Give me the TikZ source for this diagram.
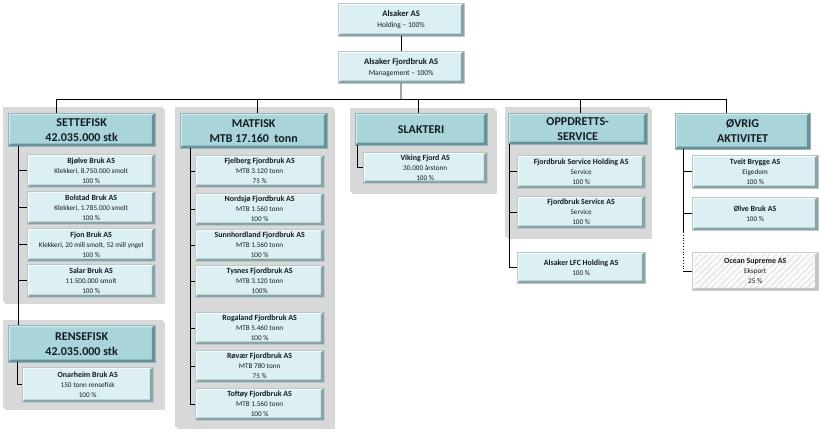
\documentclass[tikz,border=0pt]{standalone}
\usepackage{fontspec}
\setmainfont{Carlito}
\usetikzlibrary{shadows,patterns.meta}
\definecolor{hdr}{RGB}{168,212,218}
\definecolor{hdrdark}{RGB}{100,146,152}
\definecolor{hdrlight}{RGB}{208,234,238}
\definecolor{chl}{RGB}{220,239,242}
\definecolor{chldark}{RGB}{136,164,168}
\definecolor{chllight}{RGB}{244,250,251}
\definecolor{panel}{RGB}{216,216,216}
\definecolor{txt}{RGB}{20,28,34}
\newcommand\cttl[1]{{\fontsize{7.9}{10}\selectfont\bfseries #1}}
\tikzset{
  bevel/.style 2 args={path picture={
    \path (path picture bounding box.south west) coordinate (bsw)
          (path picture bounding box.north east) coordinate (bne);
    \path (bsw -| bne) coordinate (bse) (bsw |- bne) coordinate (bnw);
    \fill[#1] (bne) -- (bse) -- (bsw) -- ([xshift=2pt,yshift=2.5pt]bsw)
       -- ([xshift=-3.2pt,yshift=2.5pt]bse) -- ([xshift=-3.2pt,yshift=-2pt]bne) -- cycle;
    \fill[#2] (bsw) -- (bnw) -- (bne) -- ([xshift=-3.2pt,yshift=-2pt]bne)
       -- ([xshift=2pt,yshift=-2pt]bnw) -- ([xshift=2pt,yshift=2.5pt]bsw) -- cycle;
  }},
  panelbox/.style={fill=panel, anchor=north west, inner sep=0pt,
    drop shadow={opacity=0.3, shadow xshift=2pt, shadow yshift=-2pt}},
  hdrbox/.style={draw=hdrdark!70, line width=0.3pt, fill=hdr, bevel={hdrdark}{hdrlight},
    anchor=north west, align=center, inner sep=1pt, text=txt,
    font=\bfseries\fontsize{12}{15}\selectfont,
    drop shadow={opacity=0.25, shadow xshift=1.2pt, shadow yshift=-1.2pt}},
  chbox/.style={draw=chldark!60, line width=0.3pt, fill=chl, bevel={chldark}{chllight},
    anchor=north west, align=center, inner sep=1pt, text=txt,
    font=\fontsize{7.2}{10}\selectfont,
    drop shadow={opacity=0.2, shadow xshift=1pt, shadow yshift=-1pt}},
  topbox/.style={chbox, font=\fontsize{7.5}{11}\selectfont},
  hatchbox/.style={draw=gray!40, line width=0.3pt, preaction={fill=white!96!gray},
    pattern={Lines[angle=45,distance=4.5pt,line width=0.5pt]}, pattern color=gray!35,
    bevel={gray!45}{white},
    anchor=north west, align=center, inner sep=1pt, text=txt,
    font=\fontsize{7.2}{10}\selectfont},
  conn/.style={draw=black, line width=0.8pt},
  dotconn/.style={draw=black, line width=0.8pt, dotted},
}
\begin{document}
\begin{tikzpicture}[x=1pt,y=-1pt]
\useasboundingbox[fill=white] (0,0) rectangle (820,433);

% grey panels
\node[panelbox, minimum width=160, minimum height=195] (p1) at (3,107) {};
\node[panelbox, minimum width=160, minimum height=88] (p2) at (3,320) {};
\node[panelbox, minimum width=158, minimum height=320] (p3) at (175,107) {};
\node[panelbox, minimum width=145, minimum height=84] (p4) at (350,108) {};
\node[panelbox, minimum width=145, minimum height=130] (p5) at (505,107) {};

% top boxes
\node[topbox, minimum width=126, minimum height=33] (alsaker) at (338,3)
  {{\fontsize{8.6}{11}\selectfont\bfseries Alsaker AS}\\Holding – 100\%};
\node[topbox, minimum width=126, minimum height=32] (fjord) at (338,51)
  {{\fontsize{8.6}{11}\selectfont\bfseries Alsaker Fjordbruk AS}\\Management – 100\%};

% headers
\node[hdrbox, minimum width=147, minimum height=33] (sette) at (8,113) {SETTEFISK\\42.035.000 stk};
\node[hdrbox, minimum width=147, minimum height=37] (rense) at (8,325) {RENSEFISK\\42.035.000 stk};
\node[hdrbox, minimum width=147, minimum height=35] (mat) at (180,113) {MATFISK\\MTB 17.160\ \ tonn};
\node[hdrbox, minimum width=132, minimum height=32] (slakt) at (355,113) {SLAKTERI};
\node[hdrbox, minimum width=139, minimum height=31] (oppd) at (508,113) {OPPDRETTS-\\SERVICE};
\node[hdrbox, minimum width=135, minimum height=36] (ovrig) at (675,113) {ØVRIG\\AKTIVITET};

% bus
\coordinate (bus) at (401,99);
\coordinate (d1) at (56,99);
\coordinate (d2) at (257,99);
\coordinate (d3) at (418,99);
\coordinate (d4) at (580,99);
\coordinate (d5) at (726,99);
\draw[conn] (alsaker) -- (fjord);
\draw[conn] (fjord) -- (bus);
\draw[conn] (d1) -- (d5);
\draw[conn] (d1) -- (d1 |- sette.north);
\draw[conn] (d2) -- (d2 |- mat.north);
\draw[conn] (d3) -- (d3 |- slakt.north);
\draw[conn] (d4) -- (d4 |- oppd.north);
\draw[conn] (d5) -- (d5 |- ovrig.north);

% internal spines
\coordinate (s1) at (18,0);
\coordinate (s2) at (17,0);
\coordinate (s3) at (190,0);
\coordinate (s4) at (357,0);
\coordinate (s5) at (509,0);
\coordinate (s6) at (683,0);
\coordinate (s6b) at (683,232);

% children settefisk
\node[chbox, minimum width=128, minimum height=33] (bjolve) at (27,154)
  {\cttl{Bjølve Bruk AS}\\Klekkeri, 8.750.000 smolt\\100 \%};
\node[chbox, minimum width=128, minimum height=33] (bolstad) at (27,191)
  {\cttl{Bolstad Bruk AS}\\Klekkeri, 1.785.000 smolt\\100 \%};
\node[chbox, minimum width=128, minimum height=33] (fjon) at (27,228)
  {\cttl{Fjon Bruk AS}\\Klekkeri, 20 mill smolt, 52 mill yngel\\100 \%};
\node[chbox, minimum width=128, minimum height=33] (salar) at (27,264)
  {\cttl{Salar Bruk AS}\\11.500.000 smolt\\100 \%};
\node[chbox, minimum width=131, minimum height=35] (onarheim) at (22,367)
  {\cttl{Onarheim Bruk AS}\\150 tonn rensefisk\\100 \%};

% children matfisk
\node[chbox, minimum width=129, minimum height=32] (fjelberg) at (195,155)
  {\cttl{Fjelberg Fjordbruk AS}\\MTB 3.120 tonn\\75 \%};
\node[chbox, minimum width=129, minimum height=32] (nordsjo) at (195,193)
  {\cttl{Nordsjø Fjordbruk AS}\\MTB 1.560 tonn\\100 \%};
\node[chbox, minimum width=129, minimum height=32] (sunnh) at (195,229)
  {\cttl{Sunnhordland Fjordbruk AS}\\MTB 1.560 tonn\\100 \%};
\node[chbox, minimum width=129, minimum height=32] (tysnes) at (195,265)
  {\cttl{Tysnes Fjordbruk AS}\\MTB 3.120 tonn\\100\%};
\node[chbox, minimum width=129, minimum height=32] (rogaland) at (195,312)
  {\cttl{Rogaland Fjordbruk AS}\\MTB 5.460 tonn\\100 \%};
\node[chbox, minimum width=129, minimum height=32] (rovaer) at (195,350)
  {\cttl{Røvær Fjordbruk AS}\\MTB 780 tonn\\75 \%};
\node[chbox, minimum width=129, minimum height=32] (toftoy) at (195,388)
  {\cttl{Toftøy Fjordbruk AS}\\MTB 1.560 tonn\\100 \%};

% slakteri
\node[chbox, minimum width=124, minimum height=31] (viking) at (363,152)
  {\cttl{Viking Fjord AS}\\30.000 årstonn\\100 \%};

% oppdrettsservice
\node[chbox, minimum width=128, minimum height=33] (fsh) at (517,155)
  {\cttl{Fjordbruk Service Holding AS}\\Service\\100 \%};
\node[chbox, minimum width=128, minimum height=32] (fs) at (517,196)
  {\cttl{Fjordbruk Service AS}\\Service\\100 \%};
\node[chbox, minimum width=128, minimum height=31] (lfc) at (517,252)
  {\cttl{Alsaker LFC Holding AS}\\100 \%};

% øvrig
\node[chbox, minimum width=126, minimum height=33] (tveit) at (692,155)
  {\cttl{Tveit Brygge AS}\\Eigedom\\100 \%};
\node[chbox, minimum width=126, minimum height=33] (olve) at (692,197)
  {\cttl{Ølve Bruk AS}\\100 \%};
\node[hatchbox, minimum width=126, minimum height=38] (ocean) at (692,252)
  {\cttl{Ocean Supreme AS}\\Eksport\\25 \%};

% spines and ticks
\draw[conn] (s1 |- sette.south) -- (s1 |- rense.north);
\foreach \c in {bjolve,bolstad,fjon,salar} \draw[conn] (s1 |- \c.west) -- (\c.west);
\draw[conn] (s2 |- rense.south) |- (onarheim.west);
\draw[conn] (s3 |- mat.south) -- (s3 |- toftoy.west);
\foreach \c in {fjelberg,nordsjo,sunnh,tysnes,rogaland,rovaer,toftoy} \draw[conn] (s3 |- \c.west) -- (\c.west);
\draw[conn] (s4 |- slakt.south) |- (viking.west);
\draw[conn] (s5 |- oppd.south) |- (lfc.west);
\foreach \c in {fsh,fs} \draw[conn] (s5 |- \c.west) -- (\c.west);
\draw[conn] (s6 |- ovrig.south) -- (s6b);
\draw[dotconn] (s6b) -- (s6 |- ocean.west);
\foreach \c in {tveit,olve,ocean} \draw[conn] (s6 |- \c.west) -- (\c.west);
\end{tikzpicture}
\end{document}
